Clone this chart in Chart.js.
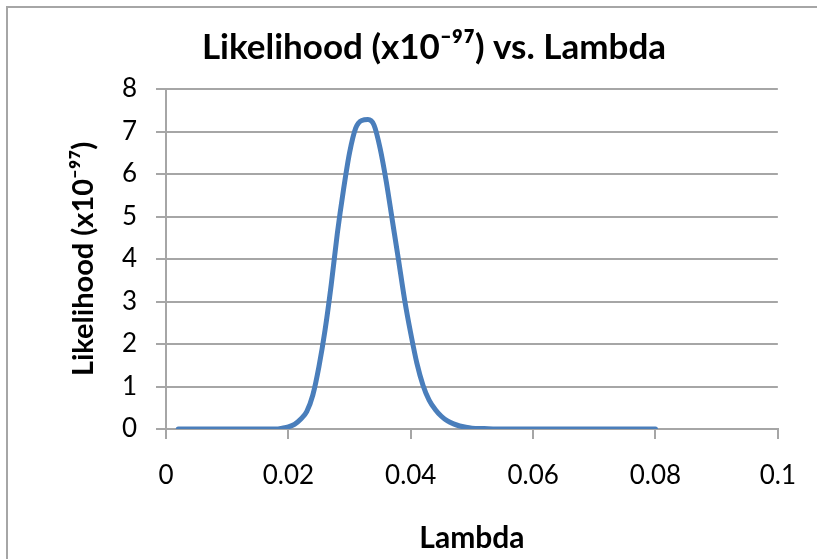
<!DOCTYPE html>
<html>
<head>
<meta charset="utf-8">
<script src="https://cdn.jsdelivr.net/npm/chart.js@4/dist/chart.umd.min.js"></script>
<style>
  html, body { margin: 0; padding: 0; background: #ffffff; overflow: hidden; }
  #wrap { position: relative; width: 817px; height: 559px; }
  #frame { position: absolute; left: 6px; top: 6px; width: 900px; height: 700px;
           border-left: 2px solid #a6a6a6; border-top: 2px solid #a6a6a6; z-index: 0; }
  #c { position: absolute; left: 0; top: 0; z-index: 1; }
</style>
</head>
<body>
<div id="wrap">
  <div id="frame"></div>
  <canvas id="c" width="817" height="559"></canvas>
</div>
<script>
// Values
const lambdaValues = [
  0.002, 0.004, 0.006, 0.008, 0.010, 0.012, 0.014, 0.016, 0.018,
  0.019, 0.020, 0.021, 0.022, 0.023, 0.024, 0.025, 0.026, 0.027, 0.028, 0.029,
  0.030, 0.031, 0.032, 0.033, 0.034, 0.035, 0.036, 0.037, 0.038, 0.039,
  0.040, 0.041, 0.042, 0.043, 0.044, 0.045, 0.046, 0.047, 0.048, 0.049,
  0.050, 0.052, 0.054, 0.056, 0.058, 0.060, 0.062, 0.064, 0.066, 0.068,
  0.070, 0.072, 0.074, 0.076, 0.078, 0.080
];
const likelihoodValues = [
  0, 0, 0, 0, 0, 0, 0, 0, 0,
  0.02, 0.05, 0.11, 0.23, 0.41, 0.80, 1.47, 2.33, 3.39, 4.60, 5.62,
  6.50, 7.08, 7.26, 7.28, 7.15, 6.60, 5.82, 4.90, 3.98, 3.04,
  2.25, 1.55, 1.03, 0.68, 0.46, 0.30, 0.19, 0.12, 0.07, 0.04,
  0.02, 0.01, 0, 0, 0, 0, 0, 0, 0, 0,
  0, 0, 0, 0, 0, 0
];
const xTickLabels = ['0', '0.02', '0.04', '0.06', '0.08', '0.1'];
const yTickLabels = ['0', '1', '2', '3', '4', '5', '6', '7', '8'];

const chartTitle = 'Likelihood (x10\u207B\u2079\u2077) vs. Lambda';
const yAxisTitle = 'Likelihood (x10\u207B\u2079\u2077)';
const xAxisTitle = 'Lambda';

const points = lambdaValues.map((x, i) => ({ x: x, y: likelihoodValues[i] }));

const FONT = "Lato, 'Open Sans', 'Noto Sans', 'DejaVu Sans', sans-serif";
const gridColor = '#a6a6a6';

new Chart(document.getElementById('c'), {
  type: 'line',
  data: {
    datasets: [{
      data: points,
      borderColor: '#4a7ebb',
      borderWidth: 5,
      pointRadius: 0,
      fill: false,
      cubicInterpolationMode: 'monotone',
      borderCapStyle: 'round',
      borderJoinStyle: 'round'
    }]
  },
  options: {
    responsive: false,
    animation: false,
    events: [],
    layout: { padding: { left: 90, right: 39, top: 0, bottom: 0 } },
    plugins: {
      legend: { display: false },
      tooltip: { enabled: false },
      title: {
        display: true,
        text: chartTitle,
        color: '#000000',
        font: { family: FONT, size: 35, weight: 'bold', lineHeight: 1.2 },
        padding: { top: 27, bottom: 20 }
      }
    },
    scales: {
      x: {
        type: 'linear',
        min: 0,
        max: 0.1,
        afterFit: (s) => { s.height = 130; },
        afterBuildTicks: (s) => {
          s.ticks = xTickLabels.map(t => ({ value: parseFloat(t) }));
        },
        ticks: {
          callback: (v, i) => xTickLabels[i],
          color: '#000000',
          font: { family: FONT, size: 26 },
          padding: 21,
          maxRotation: 0,
          autoSkip: false
        },
        grid: {
          drawOnChartArea: false,
          drawTicks: true,
          tickLength: 10,
          color: gridColor,
          lineWidth: 2
        },
        border: { display: true, color: gridColor, width: 2 },
        title: {
          display: true,
          text: xAxisTitle,
          color: '#000000',
          font: { family: FONT, size: 30, weight: 'bold', lineHeight: 1.2 },
          padding: { top: 0, bottom: 3 }
        }
      },
      y: {
        type: 'linear',
        min: 0,
        max: 8,
        afterFit: (s) => { s.width = 76; },
        afterBuildTicks: (s) => {
          s.ticks = yTickLabels.map(t => ({ value: parseFloat(t) }));
        },
        ticks: {
          callback: (v, i) => yTickLabels[i],
          color: '#000000',
          font: { family: FONT, size: 26 },
          padding: 19,
          autoSkip: false
        },
        grid: {
          drawOnChartArea: true,
          drawTicks: true,
          tickLength: 10,
          color: gridColor,
          lineWidth: 2
        },
        border: { display: true, color: gridColor, width: 2 },
        title: {
          display: true,
          text: yAxisTitle,
          color: '#000000',
          font: { family: FONT, size: 29, weight: 'bold', lineHeight: 1.2 },
          padding: { top: -23.4, bottom: 0 }
        }
      }
    }
  }
});
</script>
</body>
</html>
